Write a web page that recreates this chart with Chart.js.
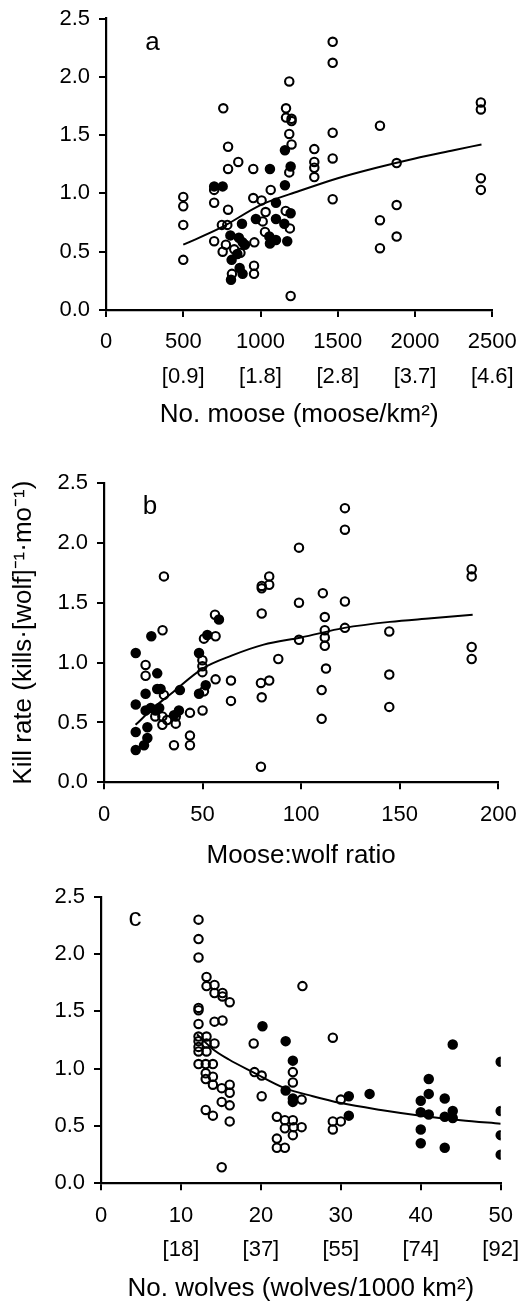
<!DOCTYPE html>
<html>
<head>
<meta charset="utf-8">
<script src="https://cdn.jsdelivr.net/npm/chart.js@4"></script>
<style>
  body { margin: 0; background: #fff; }
  .wrap { position: relative; width: 522px; height: 1304px; }
  canvas { position: absolute; left: 0; }
</style>
</head>
<body>
<div class="wrap">
  <canvas id="chart-a" width="522" height="440" style="top:0px"></canvas>
  <canvas id="chart-b" width="522" height="430" style="top:440px"></canvas>
  <canvas id="chart-c" width="522" height="434" style="top:870px"></canvas>
</div>
<script>
// ---- data: [x, kill rate] ----
// panel a: number of moose
const mooseOpen = [
  [500,0.97],[500,0.89],[500,0.73],[500,0.43],[700,1.03],[700,0.92],[700,0.59],
  [759,1.73],[790,1.40],[790,1.21],[856,1.27],[953,1.21],[790,0.86],[750,0.73],[785,0.73],
  [755,0.50],[776,0.56],[815,0.31],[830,0.52],[870,0.49],[953,0.96],[1007,0.94],[1033,0.84],
  [1066,1.03],[960,0.58],[958,0.38],[958,0.31],[1014,0.76],[1029,0.67],
  [1165,1.73],[1165,1.65],[1201,1.64],[1201,1.62],[1186,1.51],[1201,1.42],[1186,1.96],
  [1186,1.18],[1163,0.85],[1190,0.70],[1195,0.12],
  [1348,1.38],[1348,1.27],[1348,1.22],[1348,1.14],
  [1467,2.30],[1467,2.12],[1467,1.52],[1467,1.30],[1467,0.95],
  [1773,1.58],[1773,0.77],[1773,0.53],[1881,1.26],[1881,0.90],[1881,0.63],
  [2426,1.78],[2426,1.72],[2426,1.13],[2426,1.03]
];
const mooseFilled = [
  [700,1.06],[755,1.06],[1061,1.21],[1100,0.92],[1158,1.07],[1158,1.37],[1195,1.23],[1195,0.83],
  [970,0.78],[1100,0.78],[1154,0.74],[880,0.74],[805,0.64],[860,0.62],[884,0.58],[1057,0.63],
  [1061,0.57],[1100,0.60],[1173,0.59],[813,0.43],[865,0.36],[884,0.31],[809,0.26],[899,0.56],[850,0.48]
];
const mooseCurve = [[500,0.56],[750,0.71],[1000,0.90],[1250,1.02],[1500,1.13],[1750,1.22],[2000,1.30],[2250,1.37],[2430,1.42]];
const mooseTicks = [0, 500, 1000, 1500, 2000, 2500];
const mooseDensity = ['', '[0.9]', '[1.8]', '[2.8]', '[3.7]', '[4.6]'];

// panel b: moose:wolf ratio
const ratioOpen = [
  [122.2,2.29],[122.2,2.11],[98.9,1.96],[30.4,1.72],[80,1.64],[80,1.62],[83.8,1.72],[83.8,1.65],
  [98.9,1.50],[111,1.58],[122.2,1.51],[80,1.41],[112,1.38],[112,1.27],[122.2,1.29],[144.7,1.26],
  [186.5,1.78],[186.5,1.72],[29.7,1.27],[56.3,1.40],[186.5,1.13],[186.5,1.03],[144.7,0.90],
  [144.7,0.63],[112,1.21],[112,1.14],[112.6,0.95],[110.4,0.77],[110.4,0.53],[98.9,1.19],
  [88.4,1.03],[79.6,0.83],[83.8,0.85],[80,0.71],[79.6,0.13],[64.4,0.85],[64.4,0.68],[56.6,0.86],
  [50,0.60],[43.6,0.58],[43.6,0.39],[43.6,0.31],[35.5,0.31],[21.1,0.98],[21.1,0.89],[30.4,0.73],
  [29.6,0.55],[29.6,0.48],[36.4,0.55],[36.4,0.49],[49.9,1.02],[49.9,0.97],[49.9,0.92],[50.7,0.76],
  [50.7,1.20],[56.6,1.22],[26,0.55],[32,0.52]
];
const ratioFilled = [
  [16.1,1.08],[24.0,1.22],[27,0.91],[21.1,0.74],[27,0.78],[28.7,0.78],[38.5,0.77],[16.1,0.65],
  [21.1,0.60],[23.7,0.62],[26.2,0.60],[38,0.60],[35.5,0.56],[16.1,0.42],[22,0.46],[22,0.37],
  [20.3,0.31],[16.1,0.27],[48.2,1.08],[48.2,0.74],[51.6,0.81],[58.3,1.36],[52.4,1.23],[28,0.62]
];
const ratioCurve = [[16,0.48],[25,0.62],[34,0.74],[50,0.95],[65,1.06],[81,1.15],[100,1.21],[122,1.29],[145,1.34],[166,1.37],[187,1.40]];
const ratioTicks = [0, 50, 100, 150, 200];

// panel c: number of wolves
const wolfOpen = [
  [12.2,2.30],[12.2,2.13],[12.2,1.97],[13.2,1.80],[13.2,1.72],[14.2,1.73],[14.2,1.66],[15.2,1.66],
  [15.2,1.63],[16.1,1.58],[12.2,1.53],[12.2,1.51],[12.2,1.39],[14.2,1.41],[15.2,1.42],
  [12.2,1.28],[12.2,1.24],[12.2,1.19],[12.2,1.15],[13.2,1.28],[13.2,1.22],[13.2,1.15],[14.2,1.22],
  [12.2,1.04],[13.1,1.04],[14.0,1.04],[13.1,0.96],[13.1,0.91],[14.0,0.93],[14.0,0.86],[15.1,0.83],
  [16.1,0.86],[16.1,0.79],[15.1,0.71],[16.1,0.68],[13.1,0.64],[14.0,0.59],[16.1,0.54],[15.1,0.14],
  [19.1,1.22],[19.2,0.97],[20.1,0.94],[20.1,0.76],[25.2,1.72],[29.0,1.27],
  [22.0,0.58],[23,0.55],[24,0.55],[23,0.48],[24.1,0.49],[25.1,0.49],[24,0.42],[22,0.39],[22,0.31],
  [23,0.31],[24,0.97],[24,0.88],[25.1,0.73],[29,0.54],[29,0.47],[30,0.54],[30,0.73]
];
const wolfFilled = [
  [20.2,1.37],[23.1,1.24],[24,1.07],[23.1,0.81],[24,0.74],[24,0.71],[31,0.76],[31,0.59],[33.6,0.78],
  [44,1.21],[50,1.06],[41,0.91],[41,0.78],[40,0.72],[40,0.62],[41,0.60],[43,0.74],[43,0.58],
  [44,0.63],[44,0.57],[40,0.47],[40,0.35],[43,0.31],[50,0.63],[50,0.42],[50,0.25]
];
const wolfCurve = [[12,1.30],[14,1.17],[16,1.08],[19,0.97],[23,0.83],[26.5,0.76],[30,0.70],[35,0.64],[40,0.59],[45,0.55],[50,0.52]];
const wolfTicks = [0, 10, 20, 30, 40, 50];
const wolfDensity = ['', '[18]', '[37]', '[55]', '[74]', '[92]'];

const killTicks = [0, 0.5, 1, 1.5, 2, 2.5];

const FONT = '"Liberation Sans", Arial, Helvetica, sans-serif';
Chart.defaults.font.family = FONT;
Chart.defaults.color = '#000';

const toXY = arr => arr.map(p => ({x: p[0], y: p[1]}));

// panel letter drawn inside the plot at a data position
const panelLabel = {
  id: 'panelLabel',
  afterDatasetsDraw(chart, args, opts) {
    const {ctx, scales} = chart;
    ctx.save();
    ctx.font = '26px ' + FONT;
    ctx.fillStyle = '#000';
    ctx.textAlign = 'center';
    ctx.textBaseline = 'middle';
    ctx.fillText(opts.text, scales.x.getPixelForValue(opts.x), scales.y.getPixelForValue(opts.y));
    ctx.restore();
  }
};

function makeChart(id, cfg) {
  const axisGrid = {display: true, drawOnChartArea: false, drawTicks: true, tickLength: 7, color: '#000', lineWidth: 2};
  const axisBorder = {display: true, color: '#000', width: 2.2};
  return new Chart(document.getElementById(id).getContext('2d'), {
    type: 'scatter',
    data: {
      datasets: [
        {data: toXY(cfg.curve), showLine: true, pointRadius: 0, borderColor: '#000', borderWidth: 2,
         cubicInterpolationMode: 'monotone', fill: false},
        {data: toXY(cfg.open), pointRadius: 4.2, pointBorderWidth: 2.1, pointBorderColor: '#000',
         pointBackgroundColor: 'rgba(0,0,0,0)'},
        {data: toXY(cfg.filled), pointRadius: 4.2, pointBorderWidth: 2.1, pointBorderColor: '#000',
         pointBackgroundColor: '#000'}
      ]
    },
    options: {
      responsive: false,
      animation: false,
      devicePixelRatio: 1,
      layout: {padding: {top: cfg.top, right: cfg.right, bottom: 0, left: 0}},
      plugins: {legend: {display: false}, tooltip: {enabled: false}, panelLabel: cfg.label},
      scales: {
        x: {
          type: 'linear', min: cfg.xTicks[0], max: cfg.xTicks[cfg.xTicks.length - 1],
          grid: axisGrid, border: axisBorder,
          afterBuildTicks: s => { s.ticks = cfg.xTicks.map(v => ({value: v})); },
          afterFit: s => { s.height = cfg.xHeight; s.paddingLeft = 0; s.paddingRight = 0; },
          ticks: {
            autoSkip: false, maxRotation: 0, padding: 8,
            font: {size: 22, lineHeight: 1.57},
            callback: (v) => {
              const i = cfg.xTicks.indexOf(v);
              return cfg.xSub && cfg.xSub[i] ? [String(v), cfg.xSub[i]] : String(v);
            }
          },
          title: {display: true, text: cfg.xTitle, font: {size: 26, lineHeight: 1}, padding: {top: 0, bottom: cfg.titlePad}}
        },
        y: {
          type: 'linear', min: 0, max: 2.5,
          grid: axisGrid, border: axisBorder,
          afterBuildTicks: s => { s.ticks = killTicks.map(v => ({value: v})); },
          afterFit: s => { s.width = cfg.yWidth; s.paddingTop = 0; s.paddingBottom = 0; },
          ticks: {padding: 9, font: {size: 22}, callback: v => Number(v).toFixed(1)},
          title: {display: !!cfg.yTitle, text: cfg.yTitle || '', font: {size: 26, lineHeight: 1}, padding: {top: 11, bottom: 0}}
        }
      }
    },
    plugins: [panelLabel]
  });
}

makeChart('chart-a', {
  open: mooseOpen, filled: mooseFilled, curve: mooseCurve,
  xTicks: mooseTicks, xSub: mooseDensity, xTitle: 'No. moose (moose/km\u00B2)',
  top: 18.5, right: 29.7, xHeight: 130, yWidth: 106, titlePad: 12,
  label: {text: 'a', x: 300, y: 2.29}
});

makeChart('chart-b', {
  open: ratioOpen, filled: ratioFilled, curve: ratioCurve,
  xTicks: ratioTicks, xTitle: 'Moose:wolf ratio',
  yTitle: 'Kill rate (kills\u00B7[wolf]\u207B\u00B9\u00B7mo\u207B\u00B9)',
  top: 43, right: 23.7, xHeight: 87.7, yWidth: 104, titlePad: 1,
  label: {text: 'b', x: 23.3, y: 2.30}
});

makeChart('chart-c', {
  open: wolfOpen, filled: wolfFilled, curve: wolfCurve,
  xTicks: wolfTicks, xSub: wolfDensity, xTitle: 'No. wolves (wolves/1000 km\u00B2)',
  top: 26.7, right: 21.3, xHeight: 120.7, yWidth: 101, titlePad: 2,
  label: {text: 'c', x: 4.25, y: 2.31}
});
</script>
</body>
</html>
